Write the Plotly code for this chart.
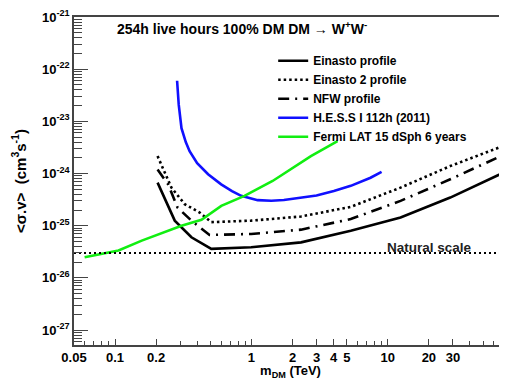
import numpy as np
import plotly.graph_objects as go

# ---------------- data ----------------
ein_m = [0.205, 0.219, 0.274, 0.363, 0.508, 0.995, 2.31, 5.35, 12.4, 28.7, 74.8]
ein_sv = [6.7e-25, 4.6e-25, 1.25e-25, 6.0e-26, 3.6e-26, 3.87e-26, 4.8e-26, 8.0e-26, 1.44e-25, 3.46e-25, 1.12e-24]

ein2_m = [0.205, 0.259, 0.324, 0.417, 0.508, 0.995, 2.31, 5.35, 12.4, 28.7, 74.8]
ein2_sv = [2.16e-24, 5.37e-25, 2.59e-25, 1.79e-25, 1.17e-25, 1.25e-25, 1.5e-25, 2.3e-25, 5.37e-25, 1.39e-24, 3.6e-24]

nfw_m = [0.205, 0.245, 0.287, 0.363, 0.493, 0.995, 2.31, 5.35, 12.4, 28.7, 74.8]
nfw_sv = [1.2e-24, 6.2e-25, 2.23e-25, 1.25e-25, 6.65e-26, 6.95e-26, 8.4e-26, 1.34e-25, 2.99e-25, 7.76e-25, 2.45e-24]

hess_m = [0.285, 0.293, 0.307, 0.33, 0.352, 0.40, 0.481, 0.60, 0.72, 0.841, 1.11, 1.4, 1.73, 2.31, 3.0, 4.02, 5.35, 7.47, 9.0]
hess_sv = [6.0e-23, 2.09e-23, 7.4e-24, 4.0e-24, 2.68e-24, 1.58e-24, 9.7e-25, 6.2e-25, 4.6e-25, 3.73e-25,
           3.09e-25, 3.0e-25, 3.1e-25, 3.4e-25, 3.8e-25, 4.64e-25, 5.8e-25, 8.3e-25, 1.08e-24]

fermi_m = [0.0598, 0.106, 0.157, 0.307, 0.43, 0.601, 0.889, 1.43, 2.73, 4.28]
fermi_sv = [2.49e-26, 3.34e-26, 5.18e-26, 1.0e-25, 1.3e-25, 2.4e-25, 3.73e-25, 7.2e-25, 2.16e-24, 4.16e-24]

natural_m = [0.05, 74.8]
natural_sv = [3e-26, 3e-26]

x_ticks = [0.05, 0.1, 0.2, 1, 2, 3, 4, 5, 10, 20, 30]
x_ticktext = ["0.05", "0.1", "0.2", "1", "2", "3", "4", "5", "10", "20", "30"]
y_exps = [-27, -26, -25, -24, -23, -22, -21]

x_range = [0.05, 74.8]
y_range = [5.17e-28, 1.0005e-21]

FONT = "Liberation Sans"

fig = go.Figure()

fig.add_trace(go.Scatter(x=ein_m, y=ein_sv, mode="lines", name="<b>Einasto profile</b>",
                         line=dict(color="black", width=2.6)))
fig.add_trace(go.Scatter(x=ein2_m, y=ein2_sv, mode="lines", name="<b>Einasto 2 profile</b>",
                         line=dict(color="black", width=2.6, dash="2.5px,3px")))
fig.add_trace(go.Scatter(x=nfw_m, y=nfw_sv, mode="lines", name="<b>NFW profile</b>",
                         line=dict(color="black", width=2.6, dash="11px,6px,2px,6px")))
fig.add_trace(go.Scatter(x=hess_m, y=hess_sv, mode="lines", name="<b>H.E.S.S I 112h (2011)</b>",
                         line=dict(color="#1010ff", width=2.6)))
fig.add_trace(go.Scatter(x=fermi_m, y=fermi_sv, mode="lines", name="<b>Fermi LAT 15 dSph 6 years</b>",
                         line=dict(color="#11ee11", width=2.6)))
fig.add_trace(go.Scatter(x=natural_m, y=natural_sv, mode="lines", showlegend=False,
                         line=dict(color="black", width=2, dash="2px,3px")))

# minor tick positions
x_minor = []
for d in [0.01, 0.1, 1, 10]:
    for k in range(2, 10):
        v = k * d
        if 0.05 < v < 74.8 and v not in x_ticks:
            x_minor.append(v)
y_minor = []
for e in range(-28, -21):
    for k in range(2, 10):
        v = k * 10.0 ** e
        if y_range[0] < v < y_range[1]:
            y_minor.append(v)

fig.update_xaxes(type="log", range=[np.log10(x_range[0]), np.log10(x_range[1])],
                 tickvals=x_ticks, ticktext=["<b>%s</b>" % t for t in x_ticktext],
                 ticks="inside", ticklen=6, tickwidth=1, tickcolor="#444",
                 minor=dict(tickvals=x_minor, ticks="inside", ticklen=4, tickcolor="#444", showgrid=False),
                 showline=True, linecolor="#444", linewidth=1.5, mirror=True,
                 showgrid=False, zeroline=False, ticklabeloverflow="allow",
                 tickfont=dict(family=FONT, size=13, color="black"),
                 title=dict(text="<b>m<sub>DM</sub> (TeV)</b>", font=dict(family=FONT, size=13, color="black"),
                            standoff=0))
fig.update_yaxes(type="log", range=[np.log10(y_range[0]), np.log10(y_range[1])],
                 tickvals=[10.0 ** e for e in y_exps],
                 ticktext=["<b>10<sup>%d</sup></b>" % e for e in y_exps],
                 ticks="inside", ticklen=14, tickwidth=1, tickcolor="#444",
                 minor=dict(tickvals=y_minor, ticks="inside", ticklen=8, tickcolor="#444", showgrid=False),
                 showline=True, linecolor="#444", linewidth=1.5,
                 showgrid=False, zeroline=False, ticklabeloverflow="allow",
                 tickfont=dict(family=FONT, size=13, color="black"),
                 title=dict(text="<b>&lt;σ.v&gt;  (cm<sup>3</sup>s<sup>-1</sup>)</b>",
                            font=dict(family=FONT, size=15, color="black"), standoff=12))

fig.add_annotation(x=np.log10(20.1), y=np.log10(3e-26), xref="x", yref="y",
                   text="<b>Natural scale</b>", showarrow=False, yanchor="bottom", yshift=-4,
                   font=dict(family=FONT, size=13.5, color="#222"))
fig.add_annotation(x=0.0947, y=0.967, xref="paper", yref="paper", xanchor="left", yanchor="middle",
                   text="<b>254h live hours 100% DM DM → W<sup>+</sup>W<sup>-</sup></b>", showarrow=False,
                   font=dict(family=FONT, size=14, color="black"))

# The page body adds an 8px margin, so the figure is sized to fill the rest of the window.
fig.update_layout(
    width=499, height=372,
    margin=dict(l=66, r=0, t=7, b=35),
    paper_bgcolor="white", plot_bgcolor="white",
    showlegend=True,
    legend=dict(x=0.46, y=0.911, xanchor="left", yanchor="top", bgcolor="rgba(0,0,0,0)",
                font=dict(family=FONT, size=12, color="black"), tracegroupgap=0, itemwidth=30),
)

fig.write_html("out.html")
